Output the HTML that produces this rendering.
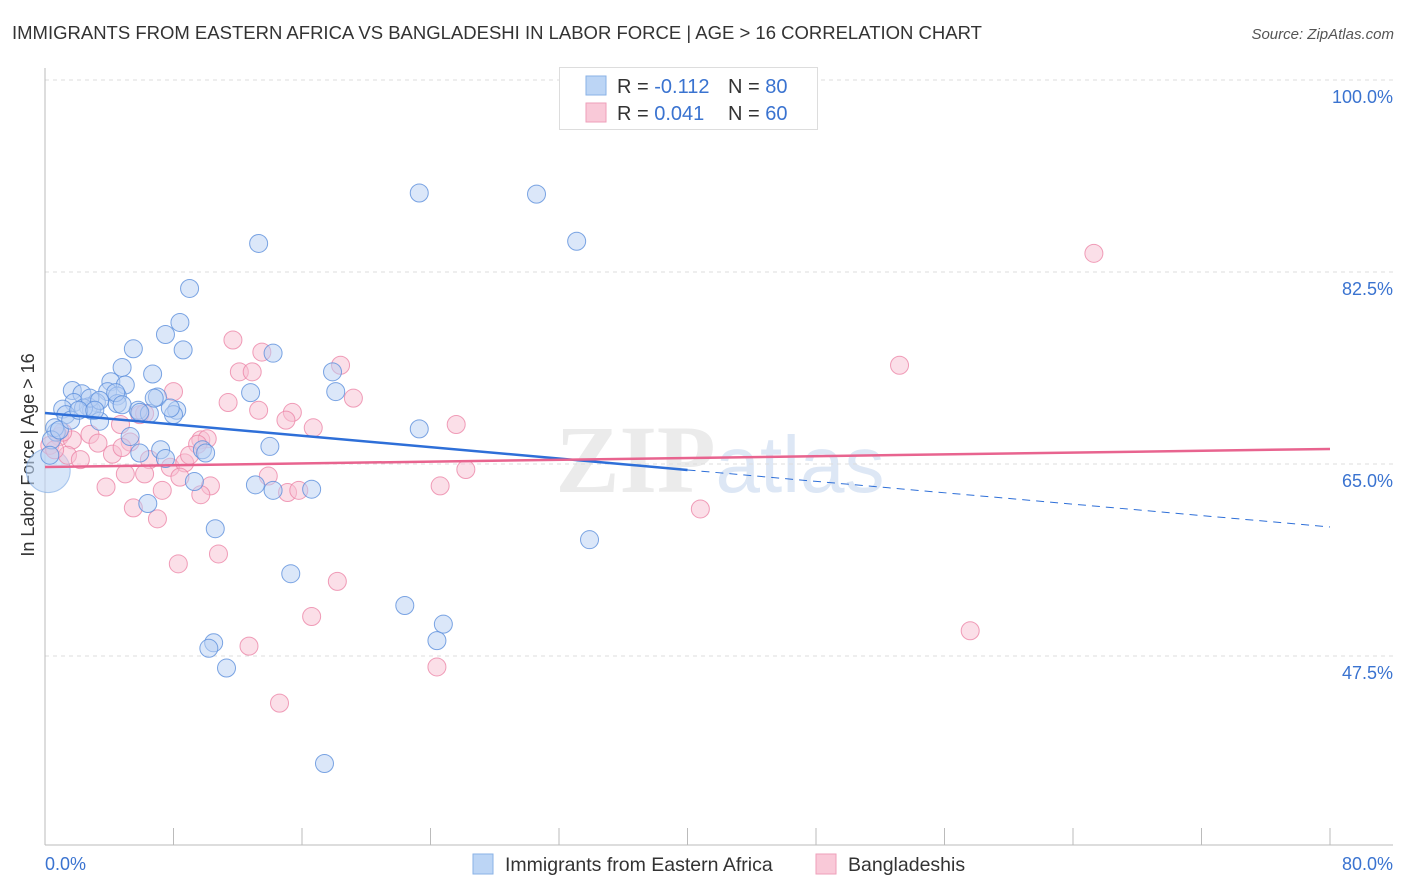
<!DOCTYPE html>
<html><head><meta charset="utf-8"><style>
body{margin:0;background:#fff;font-family:"Liberation Sans",sans-serif}
svg{display:block}
</style></head><body>
<svg id="chart" width="1406" height="892" xmlns="http://www.w3.org/2000/svg">
<text x="12" y="39" font-size="18.5" fill="#333">IMMIGRANTS FROM EASTERN AFRICA VS BANGLADESHI IN LABOR FORCE | AGE &gt; 16 CORRELATION CHART</text>
<text x="1394" y="39" font-size="15" fill="#555" font-style="italic" text-anchor="end">Source: ZipAtlas.com</text>
<text x="720" y="492" font-size="96" fill="#ebebeb" text-anchor="middle" font-family="Liberation Serif,serif" font-weight="bold">ZIP<tspan fill="#dde7f5" font-family="Liberation Sans,sans-serif" font-weight="normal" font-size="80">atlas</tspan></text>
<text transform="translate(34,455) rotate(-90)" font-size="18" fill="#333" text-anchor="middle">In Labor Force | Age &gt; 16</text>
<g id="grid"></g><g id="axes"></g><g id="pts"></g><g id="trends"></g>
<g>
<rect x="559.5" y="67.5" width="258" height="62" fill="#fff" stroke="#ddd"/>
<rect x="586" y="76" width="20" height="19" fill="#bcd5f5" stroke="#8ab2e6"/>
<rect x="586" y="103" width="20" height="19" fill="#f9c9d8" stroke="#ee9fba"/>
<text x="617" y="93" font-size="20" fill="#333">R = <tspan fill="#3a73d0">-0.112</tspan></text>
<text x="728" y="93" font-size="20" fill="#333">N = <tspan fill="#3a73d0">80</tspan></text>
<text x="617" y="120" font-size="20" fill="#333">R = <tspan fill="#3a73d0"> 0.041</tspan></text>
<text x="728" y="120" font-size="20" fill="#333">N = <tspan fill="#3a73d0">60</tspan></text>
</g>
<g>
<rect x="473" y="854" width="20" height="20" fill="#bcd5f5" stroke="#8ab2e6"/>
<text x="505" y="871" font-size="19.5" fill="#333">Immigrants from Eastern Africa</text>
<rect x="816" y="854" width="20" height="20" fill="#f9c9d8" stroke="#ee9fba"/>
<text x="848" y="871" font-size="19.5" fill="#333">Bangladeshis</text>
</g>
</svg>
<script>
const yTicks=[100,82.5,65,47.5];
const yTickLabels=["100.0%","82.5%","65.0%","47.5%"];
const xTickLabels=["0.0%","80.0%"];
const blueX=[23.3,30.6,33.1,13.3,9.0,8.4,7.5,5.5,8.6,14.2,4.8,6.7,17.9,4.1,5.0,1.7,3.9,2.3,12.8,18.1,7.0,4.5,4.5,3.2,1.8,2.7,1.1,5.8,6.5,8.2,8.0,2.9,1.3,3.4,23.3,5.3,0.7,0.6,14.0,5.9,7.2,9.8,10.0,7.5,9.3,6.4,13.1,14.2,16.6,10.6,33.9,15.3,22.4,24.8,24.4,10.5,10.2,11.3,17.4,0.4,0.3,0.9,2.4,4.4,4.8,7.8,2.8,1.6,2.1,3.4,6.8,3.1,5.9];
const blueY=[89.7,89.6,85.3,85.1,81.0,77.9,76.8,75.5,75.4,75.1,73.8,73.2,73.4,72.5,72.2,71.7,71.6,71.4,71.5,71.6,71.1,71.2,70.5,70.6,70.6,70.2,70.0,69.9,69.6,69.9,69.5,69.9,69.5,68.9,68.2,67.5,67.9,68.3,66.6,66.0,66.3,66.3,66.0,65.5,63.4,61.4,63.1,62.6,62.7,59.1,58.1,55.0,52.1,50.4,48.9,48.7,48.2,46.4,37.7,67.2,65.8,68.1,70.1,71.5,70.4,70.1,71.0,69.0,69.9,70.8,71.0,69.9,69.7];
const pinkX=[65.3,53.2,11.7,13.5,12.1,12.9,18.4,8.0,19.2,11.4,13.3,15.4,15.0,16.7,25.6,5.9,2.8,5.3,0.9,1.7,3.3,1.4,2.2,4.2,4.8,6.5,7.8,8.7,9.7,10.1,9.5,8.4,13.9,10.3,5.0,6.2,3.8,7.3,9.7,15.1,15.8,24.6,26.2,40.8,5.5,7.0,8.3,10.8,18.2,16.6,57.6,12.7,24.4,14.6,0.3,0.6,1.1,6.2,4.7,9.0];
const pinkY=[84.2,74.0,76.3,75.2,73.4,73.4,74.0,71.6,71.0,70.6,69.9,69.7,69.0,68.3,68.6,69.5,67.7,67.0,67.5,67.2,66.9,65.8,65.4,65.9,66.5,65.4,64.7,65.1,67.2,67.3,66.8,63.8,63.9,63.0,64.1,64.1,62.9,62.6,62.2,62.4,62.6,63.0,64.5,60.9,61.0,60.0,55.9,56.8,54.3,51.1,49.8,48.4,46.5,43.2,66.7,66.3,67.9,69.6,68.6,65.8];
const bigPoint=[0.2,64.4];
const blueTrend=[69.65,59.26];
const pinkTrend=[64.72,66.37];
const blueSolidEnd=40;

const NS="http://www.w3.org/2000/svg";
const X0=45,X1=1330,Y0=80,PXPER=10.971;
const sx=v=>X0+(v/80)*(X1-X0);
const sy=v=>Y0+(100-v)*PXPER;
function mk(tag,attrs,parent){const e=document.createElementNS(NS,tag);for(const k in attrs)e.setAttribute(k,attrs[k]);parent.appendChild(e);return e;}
const grid=document.getElementById('grid'),axes=document.getElementById('axes'),pts=document.getElementById('pts'),tr=document.getElementById('trends');
yTicks.forEach((t,i)=>{
  const l=mk('line',{x1:X0,x2:1393,y1:sy(t),y2:sy(t),stroke:'#ddd','stroke-dasharray':'4,4'},grid);
  
  
  const tx=mk('text',{x:1393,y:sy(t)+23,'font-size':18,fill:'#3a73d0','text-anchor':'end'},grid);
  tx.textContent=yTickLabels[i];
  
  
});
const ya=mk('line',{x1:X0,x2:X0,y1:68,y2:845,stroke:'#bbb'},axes);


const xa=mk('line',{x1:X0,x2:1393,y1:845,y2:845,stroke:'#bbb'},axes);


for(let i=0;i<=10;i++){
  const t=mk('line',{x1:sx(i*8),x2:sx(i*8),y1:828,y2:845,stroke:'#bbb'},axes);
  
  
}
[[0,'start',X0],[80,'end',1393]].forEach((a,i)=>{
  const t=mk('text',{x:a[2],y:870,'font-size':18,fill:'#3a73d0','text-anchor':a[1]},axes);
  t.textContent=xTickLabels[i];
  
  
});
function draw(xs,ys,fill,stroke,name){
  xs.forEach((x,i)=>{
    const c=mk('circle',{cx:sx(x),cy:sy(ys[i]),r:9,fill:fill,'fill-opacity':0.5,stroke:stroke,'stroke-opacity':0.8,'stroke-width':1},pts);
    
    
  });
}
const bp=mk('circle',{cx:sx(bigPoint[0]),cy:sy(bigPoint[1]),r:22,fill:'#bcd5f5','fill-opacity':0.6,stroke:'#7aa6e2','stroke-opacity':0.6},pts);


draw(pinkX,pinkY,'#f8bfd1','#ec86a8','point-bangladeshi');
draw(blueX,blueY,'#b7d0f3','#5b8fdc','point-eastern-africa');
const by=x=>blueTrend[0]+(blueTrend[1]-blueTrend[0])*x/80;
const l1=mk('line',{x1:sx(0),y1:sy(by(0)),x2:sx(blueSolidEnd),y2:sy(by(blueSolidEnd)),stroke:'#2e6fd8','stroke-width':2.5},tr);


const l2=mk('line',{x1:sx(blueSolidEnd),y1:sy(by(blueSolidEnd)),x2:sx(80),y2:sy(by(80)),stroke:'#2e6fd8','stroke-width':1,'stroke-dasharray':'8,6'},tr);


const l3=mk('line',{x1:sx(0),y1:sy(pinkTrend[0]),x2:sx(80),y2:sy(pinkTrend[1]),stroke:'#e8648f','stroke-width':2.5},tr);


</script>
</body></html>
